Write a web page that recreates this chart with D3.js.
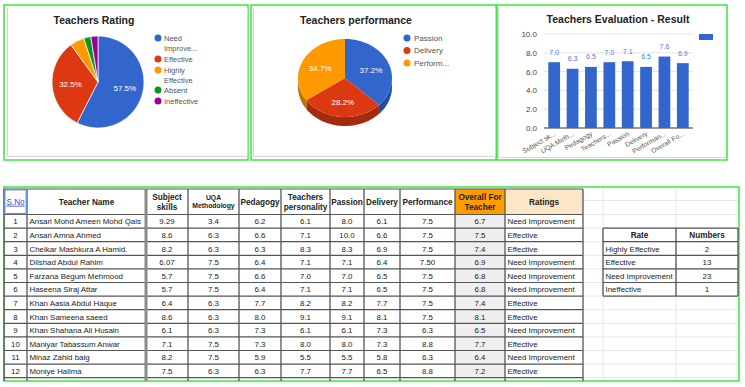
<!DOCTYPE html>
<html><head><meta charset="utf-8">
<script src="https://cdn.jsdelivr.net/npm/d3@7"></script>
<style>
body{margin:0;background:#fff}
svg{display:block}
text{font-family:"Liberation Sans",Arial,sans-serif}
</style>
</head><body>
<svg id="c" width="745" height="387"></svg>
<script>
// ---------------- DATA ----------------
const ratingLabels = ["Need Improvement","Effective","Highly Effective","Absent","Ineffective"];
const ratingLegend = [["Need","Improve..."],["Effective"],["Highly","Effective"],["Absent"],["Ineffective"]];
const ratingCounts = [23,13,2,1,1];

const perfLabels = ["Passion","Delivery","Perform..."];
const perfValues = [37.2,28.2,34.7];

const evalCategories = ["Subject sk...","UQA Meth...","Pedagogy","Teachers...","Passion","Delivery","Performan...","Overall Fo..."];
const evalValues = [7.0,6.3,6.5,7.0,7.1,6.5,7.6,6.9];
const evalTicks = [0,2,4,6,8,10];

const tableHeaders = [["S.No"],["Teacher Name"],["Subject","skills"],["UQA","Methodology"],["Pedagogy"],["Teachers","personality"],["Passion"],["Delivery"],["Performance"],["Overall For","Teacher"],["Ratings"]];
const serialNumbers = ["1","2","3","4","5","6","7","8","9","10","11","12"];
const teacherNames = ["Ansari Mohd Ameen Mohd Qais","Ansari Amna Ahmed","Chelkar Mashkura A Hamid.","Dilshad Abdul Rahim","Farzana Begum Mehmood","Haseena Siraj Attar","Khan Aasia Abdul Haque","Khan Sameena saeed","Khan Shahana Ali Husain","Maniyar Tabassum Anwar","Minaz Zahid baig","Moniye Halima"];
const subjectSkills = ["9.29","8.6","8.2","6.07","5.7","5.7","6.4","8.6","6.1","7.1","8.2","7.5"];
const uqaMethodology = ["3.4","6.3","6.3","7.5","7.5","7.5","6.3","6.3","6.3","7.5","7.5","6.3"];
const pedagogy = ["6.2","6.6","6.3","6.4","6.6","6.4","7.7","8.0","7.3","7.3","5.9","6.3"];
const personality = ["6.1","7.1","8.3","7.1","7.0","7.1","8.2","9.1","6.1","8.0","5.5","7.7"];
const passion = ["8.0","10.0","8.3","7.1","7.0","7.1","8.2","9.1","6.1","8.0","5.5","7.7"];
const delivery = ["6.1","6.6","6.9","6.4","6.5","6.5","7.7","8.1","7.3","7.3","5.8","6.5"];
const performance = ["7.5","7.5","7.5","7.50","7.5","7.5","7.5","7.5","6.3","8.8","6.3","8.8"];
const overall = ["6.7","7.5","7.4","6.9","6.8","6.8","7.4","8.1","6.5","7.7","6.4","7.2"];
const ratings = ["Need Improvement","Effective","Effective","Need Improvement","Need Improvement","Need Improvement","Effective","Effective","Need Improvement","Effective","Need Improvement","Effective"];

const rateHeaders = ["Rate","Numbers"];
const rateNames = ["Highly Effective","Effective","Need Improvement","Ineffective"];
const rateNumbers = [2,13,23,1];

// ---------------- STYLE / LAYOUT ----------------
const pieColors = ["#3366cc","#dc3912","#ff9900","#109618","#990099"];
const sideColors = ["#264d99","#a52b0e","#bf7300"];
const green = "#3de63d";
const bodyFont = 7.9;
const svg = d3.select("#c");

// panels
const panels = [[4,5,244,155],[251,5,245,155],[497,5,230,155]];
svg.selectAll("rect.panel").data(panels).join("rect").attr("class","panel")
  .attr("x",d=>d[0]).attr("y",d=>d[1]).attr("width",d=>d[2]).attr("height",d=>d[3])
  .attr("fill","#fff").attr("stroke",green).attr("stroke-width",1.5);
// inner light chart borders
svg.append("path").attr("d","M7.5,8V156.5H247.5V8").attr("fill","none").attr("stroke","#d6d6d6");
svg.append("path").attr("d","M253.5,8V156.5H495.5V8").attr("fill","none").attr("stroke","#d6d6d6");
svg.append("path").attr("d","M498.5,8V157.5H726").attr("fill","none").attr("stroke","#d6d6d6");

// ---------------- CHART 1: Teachers Rating ----------------
const g1 = svg.append("g");
g1.append("text").attr("x",94).attr("y",24).attr("text-anchor","middle")
  .attr("font-weight","bold").attr("font-size",10.5).attr("fill","#222").text("Teachers Rating");
const pie1 = d3.pie().sort(null)(ratingCounts);
const r1 = 46;
const arc1 = d3.arc().innerRadius(0).outerRadius(r1);
const pg1 = g1.append("g").attr("transform","translate(98,82)");
pg1.selectAll("path").data(pie1).join("path").attr("d",arc1)
  .attr("fill",(d,i)=>pieColors[i]).attr("stroke","#fff").attr("stroke-width",0.7);
const total1 = d3.sum(ratingCounts);
const lab1 = d3.arc().innerRadius(r1*0.6).outerRadius(r1*0.6);
pg1.selectAll("text").data(pie1.filter(d=>d.value/total1>0.1)).join("text")
  .attr("transform",d=>`translate(${lab1.centroid(d)})`).attr("dy","0.35em")
  .attr("text-anchor","middle").attr("font-size",8).attr("fill","#fff")
  .text(d=>d3.format(".1%")(d.value/total1));
const leg1Y = [38,59,70,90,101];
const lg1 = g1.selectAll("g.l1").data(ratingLegend).join("g").attr("class","l1")
  .attr("transform",(d,i)=>`translate(158,${leg1Y[i]})`);
lg1.append("circle").attr("r",3.5).attr("fill",(d,i)=>pieColors[i]);
lg1.each(function(d){
  d3.select(this).selectAll("text").data(d).join("text")
    .attr("x",6).attr("y",(t,j)=>j*10+2.8).attr("font-size",7.5).attr("fill","#555").text(t=>t);
});

// ---------------- CHART 2: Teachers performance (3D pie) ----------------
const g2 = svg.append("g");
g2.append("text").attr("x",356).attr("y",24).attr("text-anchor","middle")
  .attr("font-weight","bold").attr("font-size",10.5).attr("fill","#222").text("Teachers performance");
const P = {cx:345, cy:78, rx:47, ry:39, depth:9};
const pie2 = d3.pie().sort(null)(perfValues);
const pt = (a,k=1,dy=0)=>[P.cx+P.rx*k*Math.sin(a), P.cy-P.ry*k*Math.cos(a)+dy];
function arcPts(a0,a1,dy){
  const n = Math.max(2,Math.ceil((a1-a0)/0.04));
  return d3.range(n+1).map(i=>pt(a0+(a1-a0)*i/n,1,dy));
}
function sidePath(d){
  const a0 = Math.max(d.startAngle,Math.PI/2), a1 = Math.min(d.endAngle,3*Math.PI/2);
  if(a1<=a0) return null;
  const top = arcPts(a0,a1,0), bot = arcPts(a0,a1,P.depth).reverse();
  return "M"+top.concat(bot).map(p=>p.join(",")).join("L")+"Z";
}
function topPath(d){
  return "M"+P.cx+","+P.cy+"L"+arcPts(d.startAngle,d.endAngle,0).map(p=>p.join(",")).join("L")+"Z";
}
g2.selectAll("path.side").data(pie2.filter(d=>sidePath(d))).join("path").attr("class","side")
  .attr("d",sidePath).attr("fill",d=>sideColors[d.index]);
g2.selectAll("path.top").data(pie2).join("path").attr("class","top")
  .attr("d",topPath).attr("fill",(d,i)=>pieColors[i]);
const total2 = d3.sum(perfValues);
g2.selectAll("text.pl").data(pie2).join("text").attr("class","pl")
  .attr("x",d=>pt((d.startAngle+d.endAngle)/2,0.6)[0])
  .attr("y",d=>pt((d.startAngle+d.endAngle)/2,0.6)[1]+4)
  .attr("text-anchor","middle").attr("font-size",8).attr("fill","#fff")
  .text(d=>d3.format(".1%")(d.value/total2));
const lg2 = g2.selectAll("g.l2").data(perfLabels).join("g").attr("class","l2")
  .attr("transform",(d,i)=>`translate(407,${38+i*12.5})`);
lg2.append("circle").attr("r",3.5).attr("fill",(d,i)=>pieColors[i]);
lg2.append("text").attr("x",7).attr("y",2.8).attr("font-size",8).attr("fill","#555").text(d=>d);

// ---------------- CHART 3: Teachers Evaluation - Result ----------------
const g3 = svg.append("g");
g3.append("text").attr("x",618).attr("y",23).attr("text-anchor","middle")
  .attr("font-weight","bold").attr("font-size",10.5).attr("fill","#222").text("Teachers Evaluation - Result");
const x3 = d3.scaleBand().domain(evalCategories).range([545,692]).paddingInner(0.36).paddingOuter(0.18);
const y3 = d3.scaleLinear().domain([0,10]).range([128,34]);
g3.selectAll("line.grid").data(evalTicks).join("line").attr("class","grid")
  .attr("x1",544).attr("x2",693).attr("y1",d=>y3(d)).attr("y2",d=>y3(d))
  .attr("stroke",d=>d===0?"#333":"#dcdcdc").attr("stroke-width",d=>d===0?1:0.8);
const yAxis = g3.append("g").attr("transform","translate(541,0)")
  .call(d3.axisLeft(y3).tickValues(evalTicks).tickFormat(d3.format(".1f")).tickSize(0).tickPadding(4));
yAxis.select(".domain").remove();
yAxis.selectAll("text").attr("font-size",8).attr("fill","#444").attr("font-family","Liberation Sans, Arial, sans-serif");
g3.selectAll("rect.bar").data(evalValues).join("rect").attr("class","bar")
  .attr("x",(d,i)=>x3(evalCategories[i])).attr("width",x3.bandwidth())
  .attr("y",d=>y3(d)).attr("height",d=>y3(0)-y3(d)).attr("fill","#3366cc");
g3.selectAll("text.bl").data(evalValues).join("text").attr("class","bl")
  .attr("x",(d,i)=>x3(evalCategories[i])+x3.bandwidth()/2).attr("y",d=>y3(d)-7.5)
  .attr("text-anchor","middle").attr("font-size",7).attr("fill","#4a7bd6")
  .text(d=>d3.format(".1f")(d));
const xAxis = g3.append("g").attr("transform","translate(0,128)")
  .call(d3.axisBottom(x3).tickSize(0).tickPadding(0));
xAxis.select(".domain").remove();
xAxis.selectAll("text").attr("font-size",6.8).attr("fill","#555")
  .attr("font-family","Liberation Sans, Arial, sans-serif")
  .attr("text-anchor","end").attr("dy",null).attr("y",0)
  .attr("transform","translate(2,7) rotate(-30)");
g3.append("rect").attr("x",699).attr("y",34).attr("width",14).attr("height",6).attr("fill","#3366cc");

// ---------------- TABLE ----------------
const colEdges = [4,27,146,188,239,281,330,364,400,455,505,583];
const headTop = 189, rowTop = 214.5, rowH = 13.6, nRows = serialNumbers.length, tableBottom = 381;
const tg = svg.append("g");
tg.append("rect").attr("x",4).attr("y",187).attr("width",735).attr("height",194)
  .attr("fill","#fff").attr("stroke",green).attr("stroke-width",1.5);
// header fills
tg.append("rect").attr("x",colEdges[9]).attr("y",headTop).attr("width",colEdges[10]-colEdges[9]).attr("height",rowTop-headTop).attr("fill","#ff9c00");
tg.append("rect").attr("x",colEdges[10]).attr("y",headTop).attr("width",colEdges[11]-colEdges[10]).attr("height",rowTop-headTop).attr("fill","#fde6c6");
tg.selectAll("rect.ov").data(overall).join("rect").attr("class","ov")
  .attr("x",colEdges[9]).attr("y",(d,i)=>rowTop+i*rowH).attr("width",colEdges[10]-colEdges[9]).attr("height",rowH).attr("fill","#efefef");

// light spreadsheet grid on right
const rowLines = d3.range(nRows+1).map(i=>rowTop+i*rowH);
tg.selectAll("line.lgh").data([rowTop-14].concat(rowLines)).join("line").attr("class","lgh")
  .attr("x1",583).attr("x2",738).attr("y1",d=>d).attr("y2",d=>d).attr("stroke","#e2e2e2").attr("stroke-width",0.8);
tg.selectAll("line.lgv").data([603,676]).join("line").attr("class","lgv")
  .attr("x1",d=>d).attr("x2",d=>d).attr("y1",188).attr("y2",380).attr("stroke","#e2e2e2").attr("stroke-width",0.8);

// main grid
tg.selectAll("line.h").data([headTop].concat(rowLines)).join("line").attr("class","h")
  .attr("x1",4).attr("x2",583).attr("y1",d=>d).attr("y2",d=>d).attr("stroke","#555").attr("stroke-width",1.2);
tg.selectAll("line.v").data(colEdges).join("line").attr("class","v")
  .attr("x1",d=>d).attr("x2",d=>d).attr("y1",headTop).attr("y2",tableBottom)
  .attr("stroke",(d,i)=>i===2?"#8a8a8a":"#555").attr("stroke-width",(d,i)=>i===2?3:1.3);

// headers
const hg = tg.selectAll("g.hd").data(tableHeaders).join("g").attr("class","hd")
  .attr("transform",(d,i)=>`translate(${(colEdges[i]+colEdges[i+1])/2},${(headTop+rowTop)/2})`);
hg.each(function(d,i){
  const fs = i===3?6.8:8.2;
  d3.select(this).selectAll("text").data(d).join("text")
    .attr("text-anchor","middle").attr("font-size",fs)
    .attr("font-weight",i===0?"normal":"bold")
    .attr("fill",i===0?"#2a4fd0":"#222")
    .attr("text-decoration",i===0?"underline":null)
    .attr("y",(t,j)=>(j-(d.length-1)/2)*(fs+1.5)+fs*0.36).text(t=>t);
});
tg.append("rect").attr("x",4.8).attr("y",189.8).attr("width",21.5).attr("height",23.8)
  .attr("fill","none").attr("stroke","#6b8fe8").attr("stroke-width",1.4);

// body
const columns = [serialNumbers,teacherNames,subjectSkills,uqaMethodology,pedagogy,personality,passion,delivery,performance,overall,ratings];
const leftCols = new Set([1,10]);
columns.forEach((col,ci)=>{
  tg.selectAll("text.c"+ci).data(col).join("text").attr("class","c"+ci)
    .attr("x",leftCols.has(ci)?colEdges[ci]+2.5:(colEdges[ci]+colEdges[ci+1])/2)
    .attr("y",(d,i)=>rowTop+i*rowH+rowH/2+3)
    .attr("text-anchor",leftCols.has(ci)?"start":"middle")
    .attr("font-size",bodyFont).attr("fill","#222").text(d=>d);
});

// rate table
const rEdges = [603,676,738];
const rTop = rowTop+rowH;
const rLines = d3.range(rateNames.length+2).map(i=>rTop+i*rowH);
tg.selectAll("line.rh").data(rLines).join("line").attr("class","rh")
  .attr("x1",rEdges[0]).attr("x2",rEdges[2]).attr("y1",d=>d).attr("y2",d=>d).attr("stroke","#555").attr("stroke-width",1.2);
tg.selectAll("line.rv").data(rEdges).join("line").attr("class","rv")
  .attr("x1",d=>d).attr("x2",d=>d).attr("y1",rLines[0]).attr("y2",rLines[rLines.length-1]).attr("stroke","#555").attr("stroke-width",1.3);
tg.selectAll("text.rhd").data(rateHeaders).join("text").attr("class","rhd")
  .attr("x",(d,i)=>(rEdges[i]+rEdges[i+1])/2).attr("y",rTop+rowH/2+3)
  .attr("text-anchor","middle").attr("font-size",8.2).attr("font-weight","bold").attr("fill","#222").text(d=>d);
tg.selectAll("text.rn").data(rateNames).join("text").attr("class","rn")
  .attr("x",rEdges[0]+2.5).attr("y",(d,i)=>rTop+(i+1)*rowH+rowH/2+3)
  .attr("font-size",bodyFont).attr("fill","#222").text(d=>d);
tg.selectAll("text.rv2").data(rateNumbers).join("text").attr("class","rv2")
  .attr("x",(rEdges[1]+rEdges[2])/2).attr("y",(d,i)=>rTop+(i+1)*rowH+rowH/2+3)
  .attr("text-anchor","middle").attr("font-size",bodyFont).attr("fill","#222").text(d=>d);
</script>
</body></html>
